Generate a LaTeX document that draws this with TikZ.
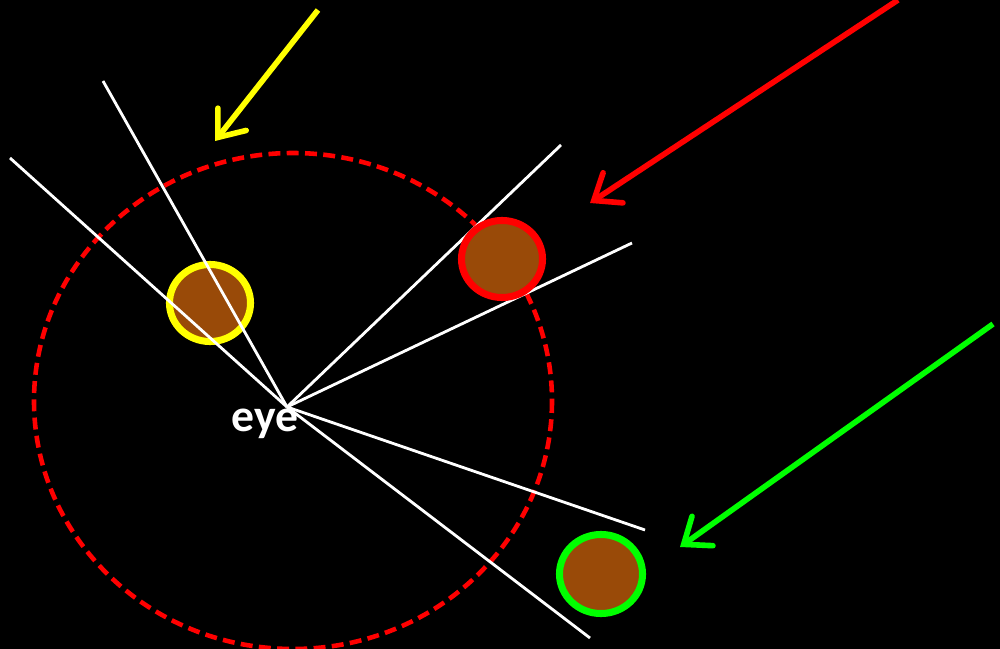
\documentclass[tikz,border=0pt]{standalone}
\usepackage{fontspec}
\setsansfont{Carlito}
\usetikzlibrary{arrows.meta,shapes.geometric}
\definecolor{ball}{RGB}{153,74,8}
\definecolor{ylw}{RGB}{255,255,0}
\definecolor{grn}{RGB}{0,255,0}
\tikzset{
  ray/.style={draw=white,line width=0.8pt},
  ballnode/.style={ellipse,fill=ball,line width=2pt,minimum width=0.81cm,minimum height=0.77cm,inner sep=0pt},
  lightarrow/.style={line width=1.6pt,-{Straight Barb[length=2.3mm,width=3.6mm,line cap=round]}},
}
\begin{document}
\begin{tikzpicture}[x=0.01cm,y=-0.01cm]
\fill[black] (0,0) rectangle (1000,649);
\useasboundingbox (0,0) rectangle (1000,649);
\draw[red,line width=1.3pt,dash pattern=on 3.4pt off 1.8pt] (293,401) ellipse [x radius=259,y radius=248];
\node[ballnode,draw=ylw] (yb) at (210,303) {};
\coordinate (eye) at (287,407);
\coordinate (r1) at (10,158);
\coordinate (r2) at (103,81);
\coordinate (r3) at (561,145);
\coordinate (r4) at (632,243);
\coordinate (r5) at (645,530);
\coordinate (r6) at (590,638);
\foreach \r in {r1,r2,r3,r4,r5,r6} \draw[ray] (eye) -- (\r);
\node[ballnode,draw=red] (rb) at (502,259) {};
\node[ballnode,draw=grn,minimum width=0.83cm,minimum height=0.79cm] (gb) at (601,574) {};
\node[text=white,font=\sffamily\bfseries\fontsize{13}{15}\selectfont] (lbl) at (265,424) {eye};
\coordinate (ys) at (318,10);
\coordinate (ye) at (215,141);
\coordinate (rs) at (898,0);
\coordinate (re) at (590,203);
\coordinate (gs) at (993,324);
\coordinate (ge) at (680,547);
\draw[lightarrow,ylw] (ys) -- (ye);
\draw[lightarrow,red] (rs) -- (re);
\draw[lightarrow,grn] (gs) -- (ge);
\end{tikzpicture}
\end{document}
